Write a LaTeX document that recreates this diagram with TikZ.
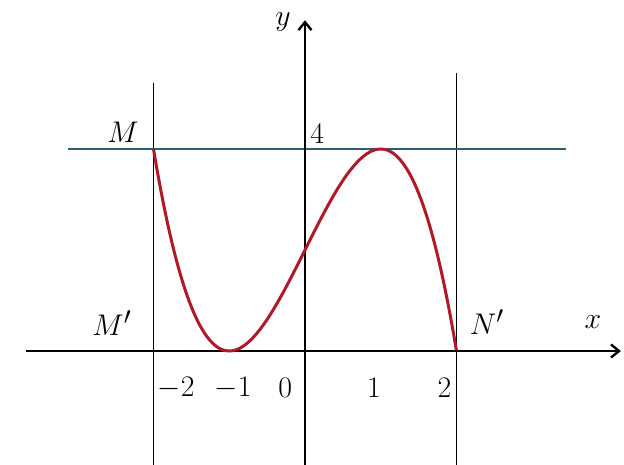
\documentclass[tikz,border=0pt]{standalone}
\usepackage{tikz}
\usetikzlibrary{arrows.meta}
\definecolor{lineteal}{RGB}{45,95,110}
\definecolor{curvered}{RGB}{175,25,40}

\begin{document}
\begin{tikzpicture}[x=75.75pt,y=50.5pt,
    axis/.style={line width=2.6pt,-{Straight Barb[length=8pt,width=13pt,line width=2.4pt]}},
    guide/.style={line width=1.5pt},
    lbl/.style={font=\Huge,scale=1.2,inner sep=0pt}]
  \useasboundingbox (-4.026,-2.257) rectangle (4.211,6.950);
  % Vertical lines x = -2, x = 2
  \draw[guide] (-2,-2.257) -- (-2,5.31);
  \draw[guide] (2,-2.257) -- (2,5.50);
  % Line y = 4
  \draw[lineteal,line width=2.4pt] (-3.13,4) -- (3.44,4);
  % Axes
  \draw[axis] (-3.68,0) -- (4.17,0);
  \draw[axis] (0,-2.257) -- (0,6.55);
  % Graph
  \draw[curvered,line width=3pt,line join=round]
    plot[domain=-2:2,samples=120,smooth] (\x,{-(\x)^3+3*\x+2});
  % Labels
  \node[lbl] (ylab) at (-0.29,6.52) {$y$};
  \node[lbl] (xlab) at (3.80,0.57) {$x$};
  \node[lbl] (mlab) at (-2.40,4.34) {$M$};
  \node[lbl] (four) at (0.16,4.30) {$4$};
  \node[lbl] (mprime) at (-2.55,0.55) {$M'$};
  \node[lbl] (nprime) at (2.40,0.57) {$N'$};
  \node[lbl] (tm2) at (-1.70,-0.73) {$-2$};
  \node[lbl] (tm1) at (-0.95,-0.73) {$-1$};
  \node[lbl] (t0) at (-0.26,-0.73) {$0$};
  \node[lbl] (t1) at (0.91,-0.73) {$1$};
  \node[lbl] (t2) at (1.84,-0.73) {$2$};
\end{tikzpicture}
\end{document}
